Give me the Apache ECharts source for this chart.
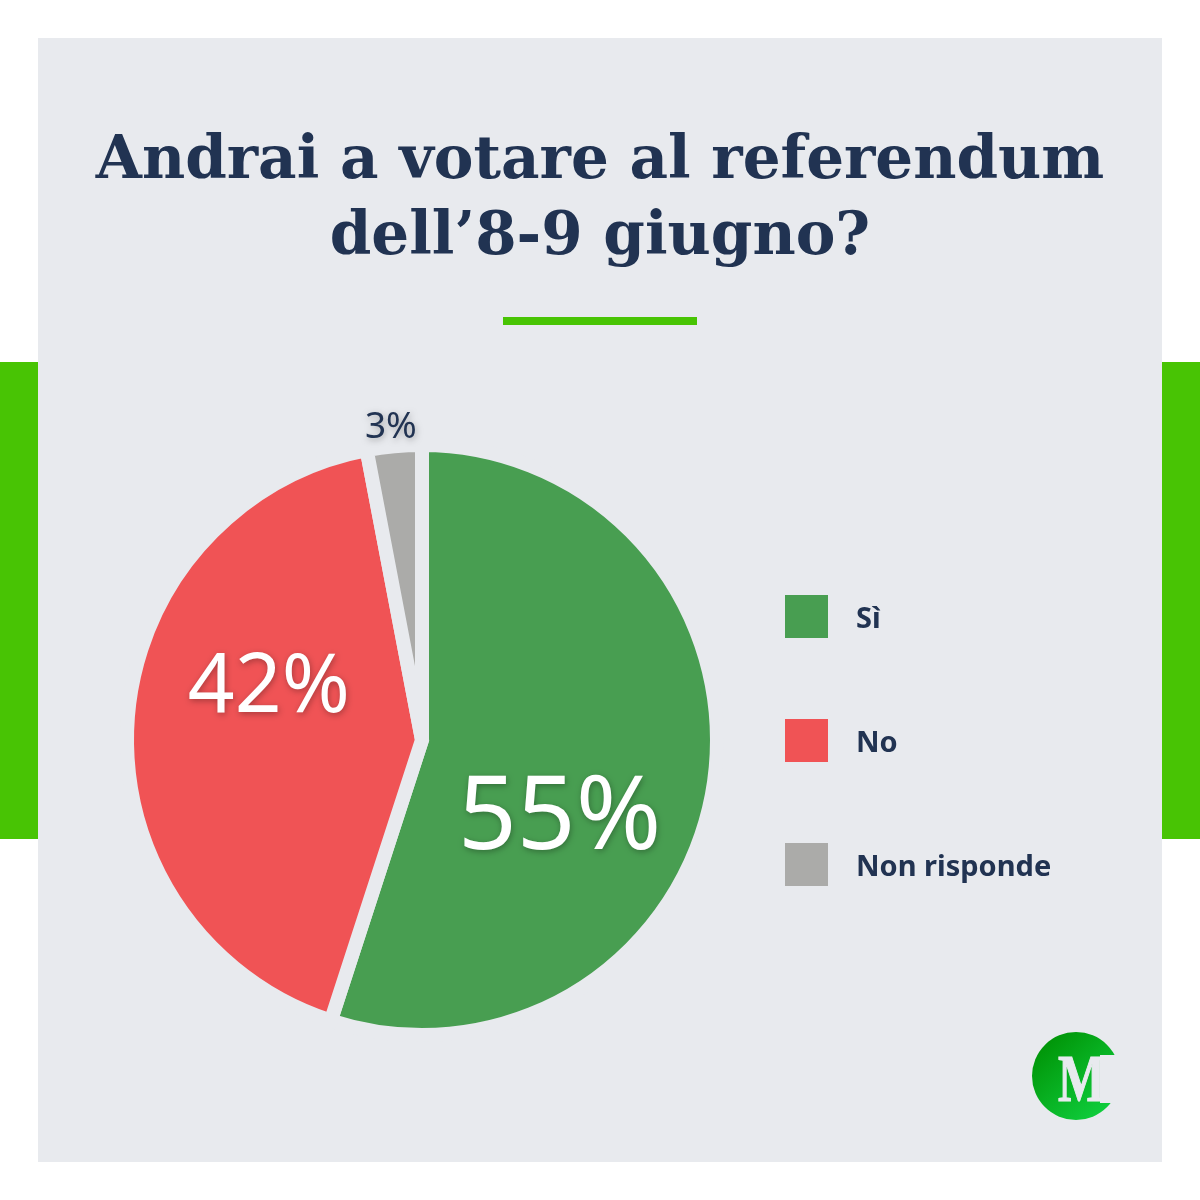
<!DOCTYPE html>
<html>
<head>
<meta charset="utf-8">
<style>html,body{margin:0;padding:0;background:#fff}#c{width:1200px;height:1200px}</style>
<script src="https://cdn.jsdelivr.net/npm/echarts@6/dist/echarts.min.js"></script>
</head>
<body>
<div id="c"></div>
<script>
const categories = ['Sì', 'No', 'Non risponde'];
const values = [55, 42, 3];
const sliceColors = ['#489E51', '#F05355', '#ABABA9'];
const labelSizes = [103, 82, 37];
const labelColors = ['#ffffff', '#ffffff', '#213352'];
const labelShifts = [[-11, 56], [-3, -42], [-17, -163]];
const titleText = 'Andrai a votare al referendum\ndell’8-9 giugno?';
const BG = '#E8EAEE', ACCENT = '#48C404', INK = '#213352';

const chart = echarts.init(document.getElementById('c'), null, {renderer: 'canvas', width: 1200, height: 1200});
chart.setOption({
  animation: false,
  backgroundColor: '#ffffff',
  title: {
    text: titleText, left: 595, top: 120, textAlign: 'center',
    textStyle: {fontFamily: 'DejaVu Serif', fontWeight: 'bold', fontSize: 59.5, lineHeight: 76, color: INK}
  },
  legend: {
    orient: 'vertical', left: 783, top: 593, padding: 0, itemWidth: 45, itemHeight: 45, itemGap: 77,
    icon: 'rect', selectedMode: false, data: categories,
    formatter: (name) => '{t|' + name + '}',
    textStyle: {
      color: INK, padding: [0, 0, 0, 22],
      rich: {t: {fontFamily: 'Noto Sans', fontWeight: 'bold', fontSize: 29, color: INK, padding: [6, 0, 0, 0]}}
    }
  },
  graphic: [
    {type: 'rect', z: -10, silent: true, shape: {x: 0, y: 362, width: 1200, height: 477}, style: {fill: ACCENT}},
    {type: 'rect', z: -9, silent: true, shape: {x: 38, y: 38, width: 1124, height: 1124}, style: {fill: BG}},
    {type: 'rect', z: -8, silent: true, shape: {x: 503, y: 317, width: 194, height: 8}, style: {fill: ACCENT}},
    {type: 'circle', z: -8, silent: true, shape: {cx: 1076, cy: 1076, r: 44},
      style: {fill: new echarts.graphic.LinearGradient(0.1, 0.1, 0.85, 0.95, [
        {offset: 0, color: '#009306'}, {offset: 1, color: '#10D03F'}])}},
    {type: 'rect', z: -7, silent: true, shape: {x: 1100, y: 1055, width: 22, height: 48}, style: {fill: BG}},
    {type: 'text', z: -6, silent: true, x: 1058, y: 1049, scaleX: 0.74,
      style: {text: 'M', fontFamily: 'Liberation Serif', fontWeight: 'bold', fontSize: 68, fill: BG, stroke: BG, lineWidth: 1.2}}
  ],
  series: [{
    type: 'pie', center: [422, 740], radius: [0, 295], startAngle: 90, clockwise: true,
    avoidLabelOverlap: false,
    itemStyle: {borderColor: BG, borderWidth: 14, borderJoin: 'miter'},
    emphasis: {disabled: true},
    labelLine: {show: false},
    labelLayout: (p) => ({dx: labelShifts[p.dataIndex][0], dy: labelShifts[p.dataIndex][1]}),
    data: categories.map((name, i) => ({
      name, value: values[i],
      itemStyle: {color: sliceColors[i]},
      label: {
        show: true, position: 'inside', formatter: '{c}%',
        fontFamily: 'Noto Sans', fontSize: labelSizes[i], color: labelColors[i],
        textBorderWidth: 0,
        textShadowColor: 'rgba(0,0,0,0.3)', textShadowBlur: 6, textShadowOffsetX: 1, textShadowOffsetY: 2
      }
    }))
  }]
});
</script>
</body>
</html>
